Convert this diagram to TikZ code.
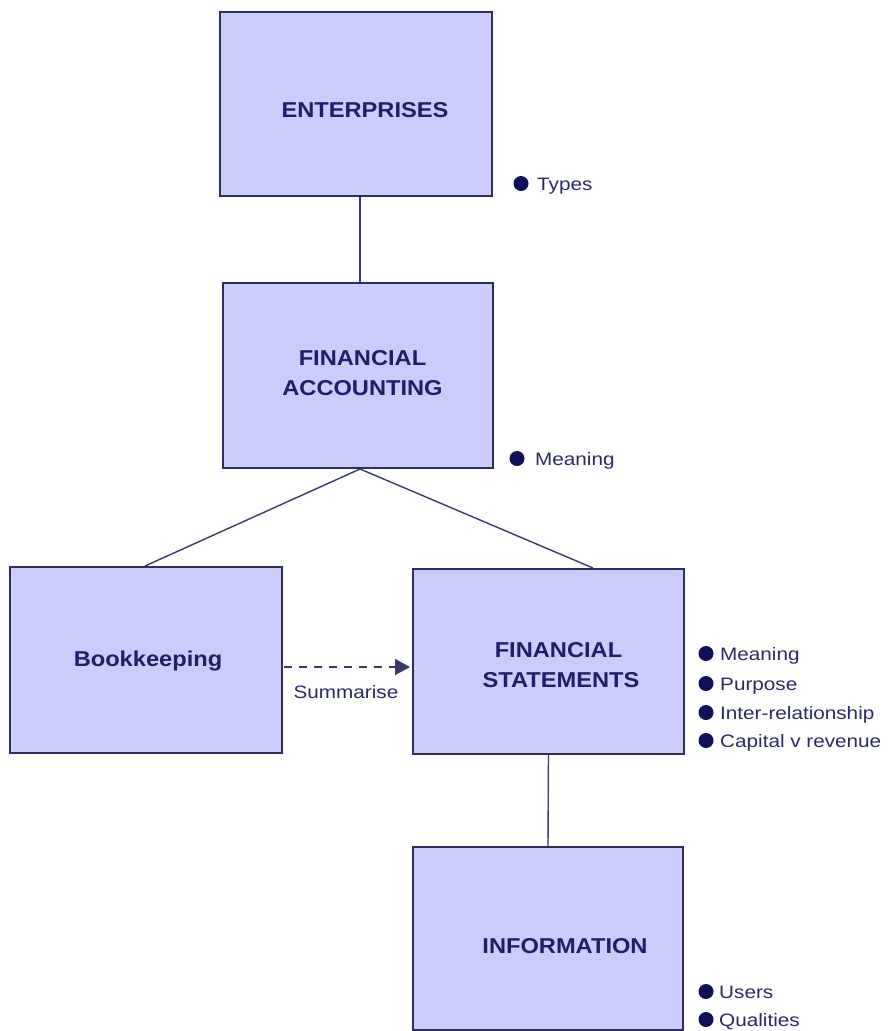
\documentclass[tikz,border=0pt]{standalone}
\usepackage{fontspec}
\usetikzlibrary{arrows.meta}
\newfontfamily\titlefont[FakeStretch=1.1]{Liberation Sans}
\newfontfamily\labfont[FakeStretch=1.15]{Liberation Sans}
\definecolor{boxfill}{HTML}{CCCCFC}
\definecolor{boxline}{HTML}{2E2E5C}
\definecolor{titlecol}{HTML}{1E1E6A}
\definecolor{labcol}{HTML}{2A2A6A}
\definecolor{dotcol}{HTML}{10105A}
\definecolor{linecol}{HTML}{3A3A68}
\tikzset{
  box/.style={draw=boxline, line width=2pt, fill=boxfill, rectangle, inner sep=0pt},
  title/.style={font=\titlefont\bfseries\fontsize{21.5}{25}\selectfont, text=titlecol, inner sep=0pt, anchor=base},
  lab/.style={font=\labfont\fontsize{18}{22}\selectfont, text=labcol, inner sep=0pt, anchor=base west},
  dot/.style={circle, fill=dotcol, inner sep=0pt, minimum size=15pt},
  conn/.style={draw=linecol, line width=1.4pt},
  dasharrow/.style={draw=linecol, line width=1.6pt, dash pattern=on 8pt off 7pt, -{Triangle[length=15pt,width=16pt]}}
}
\newcommand\bitem[5]{%
  \node[dot] (#1d) at (#2,#4-6.5) {};
  \node[lab] (#1) at (#3,#4) {#5};
}
\begin{document}
\begin{tikzpicture}[x=1pt,y=-1pt]
\useasboundingbox[fill=white] (0,0) rectangle (887,1031);
% boxes
\node[box, minimum width=272pt, minimum height=184pt] (ent) at (356,104) {};
\node[box, minimum width=270pt, minimum height=185pt] (fa) at (358,375.5) {};
\node[box, minimum width=272pt, minimum height=186pt] (bk) at (146,660) {};
\node[box, minimum width=271pt, minimum height=185pt] (fs) at (548.5,661.5) {};
\node[box, minimum width=270pt, minimum height=183pt] (info) at (548,938.5) {};
% titles
\node[title] (entT) at (365,117) {ENTERPRISES};
\node[title] (faT1) at (362.5,365) {FINANCIAL};
\node[title] (faT2) at (362.5,395) {ACCOUNTING};
\node[title] (bkT) at (148,666) {Bookkeeping};
\node[title] (fsT1) at (558.5,657) {FINANCIAL};
\node[title] (fsT2) at (561,687) {STATEMENTS};
\node[title] (infoT) at (565,953) {INFORMATION};
% connectors
\draw[conn] ([xshift=4pt]ent.south) -- ([xshift=2pt]fa.north);
\draw[conn] ([xshift=2pt]fa.south) -- ([xshift=-1pt]bk.north);
\draw[conn] ([xshift=2pt]fa.south) -- ([xshift=44.5pt]fs.north);
\draw[conn] (fs.south) -- (info.north);
\draw[dasharrow] ([yshift=-7pt,xshift=1pt]bk.east) -- ([yshift=-5.5pt,xshift=-2pt]fs.west);
\node[lab, anchor=base] (sum) at (346,698) {Summarise};
% bullet items
\bitem{types}{521}{537}{190}{Types}
\bitem{meanA}{517}{535}{465}{Meaning}
\bitem{meanB}{706}{720}{660}{Meaning}
\bitem{purp}{706}{720}{690}{Purpose}
\bitem{inter}{706}{720}{719}{Inter-relationship}
\bitem{capv}{706}{720}{747}{Capital v revenue}
\bitem{users}{706}{719}{998}{Users}
\bitem{qual}{706}{719}{1026}{Qualities}
\end{tikzpicture}
\end{document}
